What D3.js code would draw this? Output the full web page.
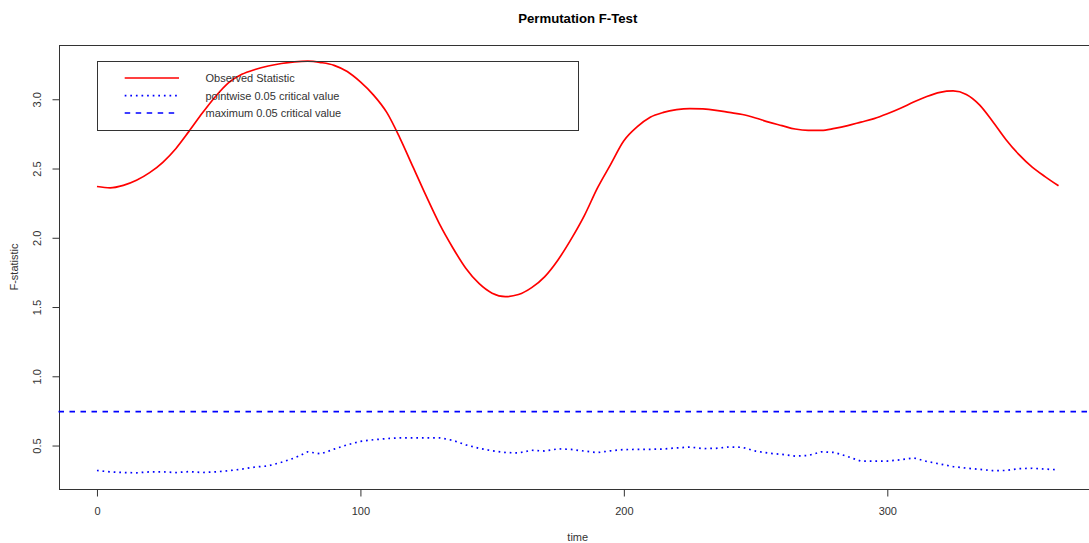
<!DOCTYPE html>
<html><head><meta charset="utf-8">
<script src="https://cdn.jsdelivr.net/npm/d3@7"></script>
<style>
html,body{margin:0;padding:0;background:#fff;}
svg{display:block;font-family:"Liberation Sans",Arial,sans-serif;}
</style></head>
<body>
<svg id="chart" width="1089" height="543"></svg>
<script>
// ---- data ----
const times = [0,5,10,15,20,25,30,35,40,45,50,55,60,65,70,75,80,85,90,95,100,105,110,115,120,125,130,135,140,145,150,155,160,165,170,175,180,185,190,195,200,205,210,215,220,225,230,235,240,245,250,255,260,265,270,275,280,285,290,295,300,305,310,315,320,325,330,335,340,345,350,355,360,365];
const observed = [2.37,2.36,2.378,2.415,2.47,2.545,2.645,2.77,2.90,3.02,3.12,3.18,3.215,3.24,3.258,3.27,3.275,3.265,3.245,3.20,3.125,3.03,2.905,2.72,2.51,2.30,2.10,1.93,1.78,1.67,1.60,1.575,1.59,1.64,1.72,1.84,1.99,2.16,2.36,2.53,2.70,2.80,2.87,2.905,2.925,2.933,2.93,2.92,2.905,2.89,2.865,2.835,2.81,2.785,2.775,2.775,2.79,2.81,2.835,2.86,2.895,2.935,2.98,3.02,3.05,3.06,3.035,2.96,2.84,2.71,2.60,2.51,2.44,2.375];
const pointwise = [0.32,0.31,0.305,0.303,0.31,0.31,0.305,0.312,0.305,0.31,0.318,0.33,0.345,0.353,0.379,0.41,0.455,0.44,0.474,0.505,0.53,0.542,0.55,0.556,0.556,0.556,0.556,0.538,0.505,0.48,0.462,0.45,0.446,0.466,0.46,0.476,0.472,0.46,0.449,0.462,0.471,0.472,0.473,0.475,0.483,0.489,0.478,0.48,0.49,0.487,0.46,0.445,0.436,0.424,0.428,0.455,0.45,0.42,0.387,0.387,0.388,0.397,0.411,0.385,0.367,0.348,0.337,0.328,0.319,0.32,0.333,0.336,0.33,0.325];
const maxCritical = 0.745;
const xTicks = [0,100,200,300];
const yTicks = [0.5,1.0,1.5,2.0,2.5,3.0];
const yTickLabels = ["0.5","1.0","1.5","2.0","2.5","3.0"];
const legendLabels = ["Observed Statistic","pointwise 0.05 critical value","maximum 0.05 critical value"];
const titleText = "Permutation F-Test";
const xLabel = "time";
const yLabel = "F-statistic";

// ---- layout ----
const svg = d3.select("#chart");
const L = 58.5, R = 1097, T = 44.7, B = 489.3;
const xMin = d3.min(times), xMax = d3.max(times);
const xPad = (xMax - xMin) * 0.04;
const x = d3.scaleLinear().domain([xMin - xPad, xMax + xPad]).range([L, R]);
const allY = observed.concat(pointwise, [maxCritical]);
const yLo = d3.min(allY), yHi = d3.max(allY), yPad = (yHi - yLo) * 0.04;
const y = d3.scaleLinear().domain([yLo - yPad, yHi + yPad]).range([B, T]);

const ink = "#333";

// box
svg.append("rect").attr("x", Math.round(L)+0.5).attr("y", Math.round(T)+0.5)
  .attr("width", Math.round(R)-Math.round(L)).attr("height", Math.round(B)-Math.round(T))
  .attr("fill","none").attr("stroke", ink).attr("stroke-width",1).attr("shape-rendering","crispEdges");

// axes
const xAxis = d3.axisBottom(x).tickValues(xTicks).tickFormat(d3.format("d")).tickSize(7).tickPadding(11);
const gx = svg.append("g").attr("transform", `translate(0,${Math.round(B)+0.5})`).call(xAxis);
gx.select(".domain").attr("d", `M${x(xTicks[0])},0H${x(xTicks[xTicks.length-1])}`).attr("stroke", ink);
gx.selectAll(".tick line").attr("stroke", ink);
gx.selectAll(".tick text").attr("fill", ink).style("font-size","11px").style("font-family","'Liberation Sans',Arial,sans-serif");

const yAxis = d3.axisLeft(y).tickValues(yTicks).tickFormat((d,i)=>yTickLabels[i]).tickSize(7).tickPadding(0);
const gy = svg.append("g").attr("transform", `translate(${Math.round(L)+0.5},0)`).call(yAxis);
gy.select(".domain").attr("d", `M0,${y(yTicks[0])}V${y(yTicks[yTicks.length-1])}`).attr("stroke", ink);
gy.selectAll(".tick line").attr("stroke", ink);
gy.selectAll(".tick text").attr("fill", ink).attr("x", null).attr("dy", null)
  .attr("text-anchor","middle").attr("transform","translate(-19,0) rotate(-90)")
  .style("font-size","11px").style("font-family","'Liberation Sans',Arial,sans-serif");

// title and axis labels
svg.append("text").attr("x",(L+R)/2).attr("y",22.5).attr("text-anchor","middle")
  .style("font-weight","bold").style("font-size","13.2px").attr("fill","#000").text(titleText);
svg.append("text").attr("x",(L+R)/2).attr("y",541).attr("text-anchor","middle")
  .style("font-size","11px").attr("fill",ink).text(xLabel);
svg.append("text").attr("transform",`translate(18,${(T+B)/2}) rotate(-90)`).attr("text-anchor","middle")
  .style("font-size","11px").attr("fill",ink).text(yLabel);

// lines
const line = d3.line().x((d,i)=>x(times[i])).y(d=>y(d)).curve(d3.curveLinear);
svg.append("line").attr("x1",L).attr("x2",R).attr("y1",y(maxCritical)).attr("y2",y(maxCritical))
  .attr("stroke","#0000ff").attr("stroke-width",1.7).attr("stroke-dasharray","5.5,5.5");
svg.append("path").datum(pointwise).attr("d", line).attr("fill","none")
  .attr("stroke","#0000ff").attr("stroke-width",1.7).attr("stroke-dasharray","1.7,3.9");
svg.append("path").datum(observed).attr("d", d3.line().x((d,i)=>x(times[i])).y(d=>y(d)).curve(d3.curveMonotoneX))
  .attr("fill","none").attr("stroke","#ff0000").attr("stroke-width",1.7);

// legend
const lg = svg.append("g");
lg.append("rect").attr("x",97.5).attr("y",61.5).attr("width",481).attr("height",69)
  .attr("fill","none").attr("stroke", ink).attr("stroke-width",1).attr("shape-rendering","crispEdges");
const legY = [78, 95.7, 113];
const legStyles = [{c:"#ff0000",d:null},{c:"#0000ff",d:"1.7,3.9"},{c:"#0000ff",d:"5.5,5.5"}];
legendLabels.forEach((lab,i)=>{
  lg.append("line").attr("x1",124.7).attr("x2",179).attr("y1",legY[i]).attr("y2",legY[i])
    .attr("stroke",legStyles[i].c).attr("stroke-width",1.7).attr("stroke-dasharray",legStyles[i].d);
  lg.append("text").attr("x",205.5).attr("y",legY[i]).attr("dy","0.35em")
    .style("font-size","11px").attr("fill",ink).text(lab);
});
</script>
</body></html>
